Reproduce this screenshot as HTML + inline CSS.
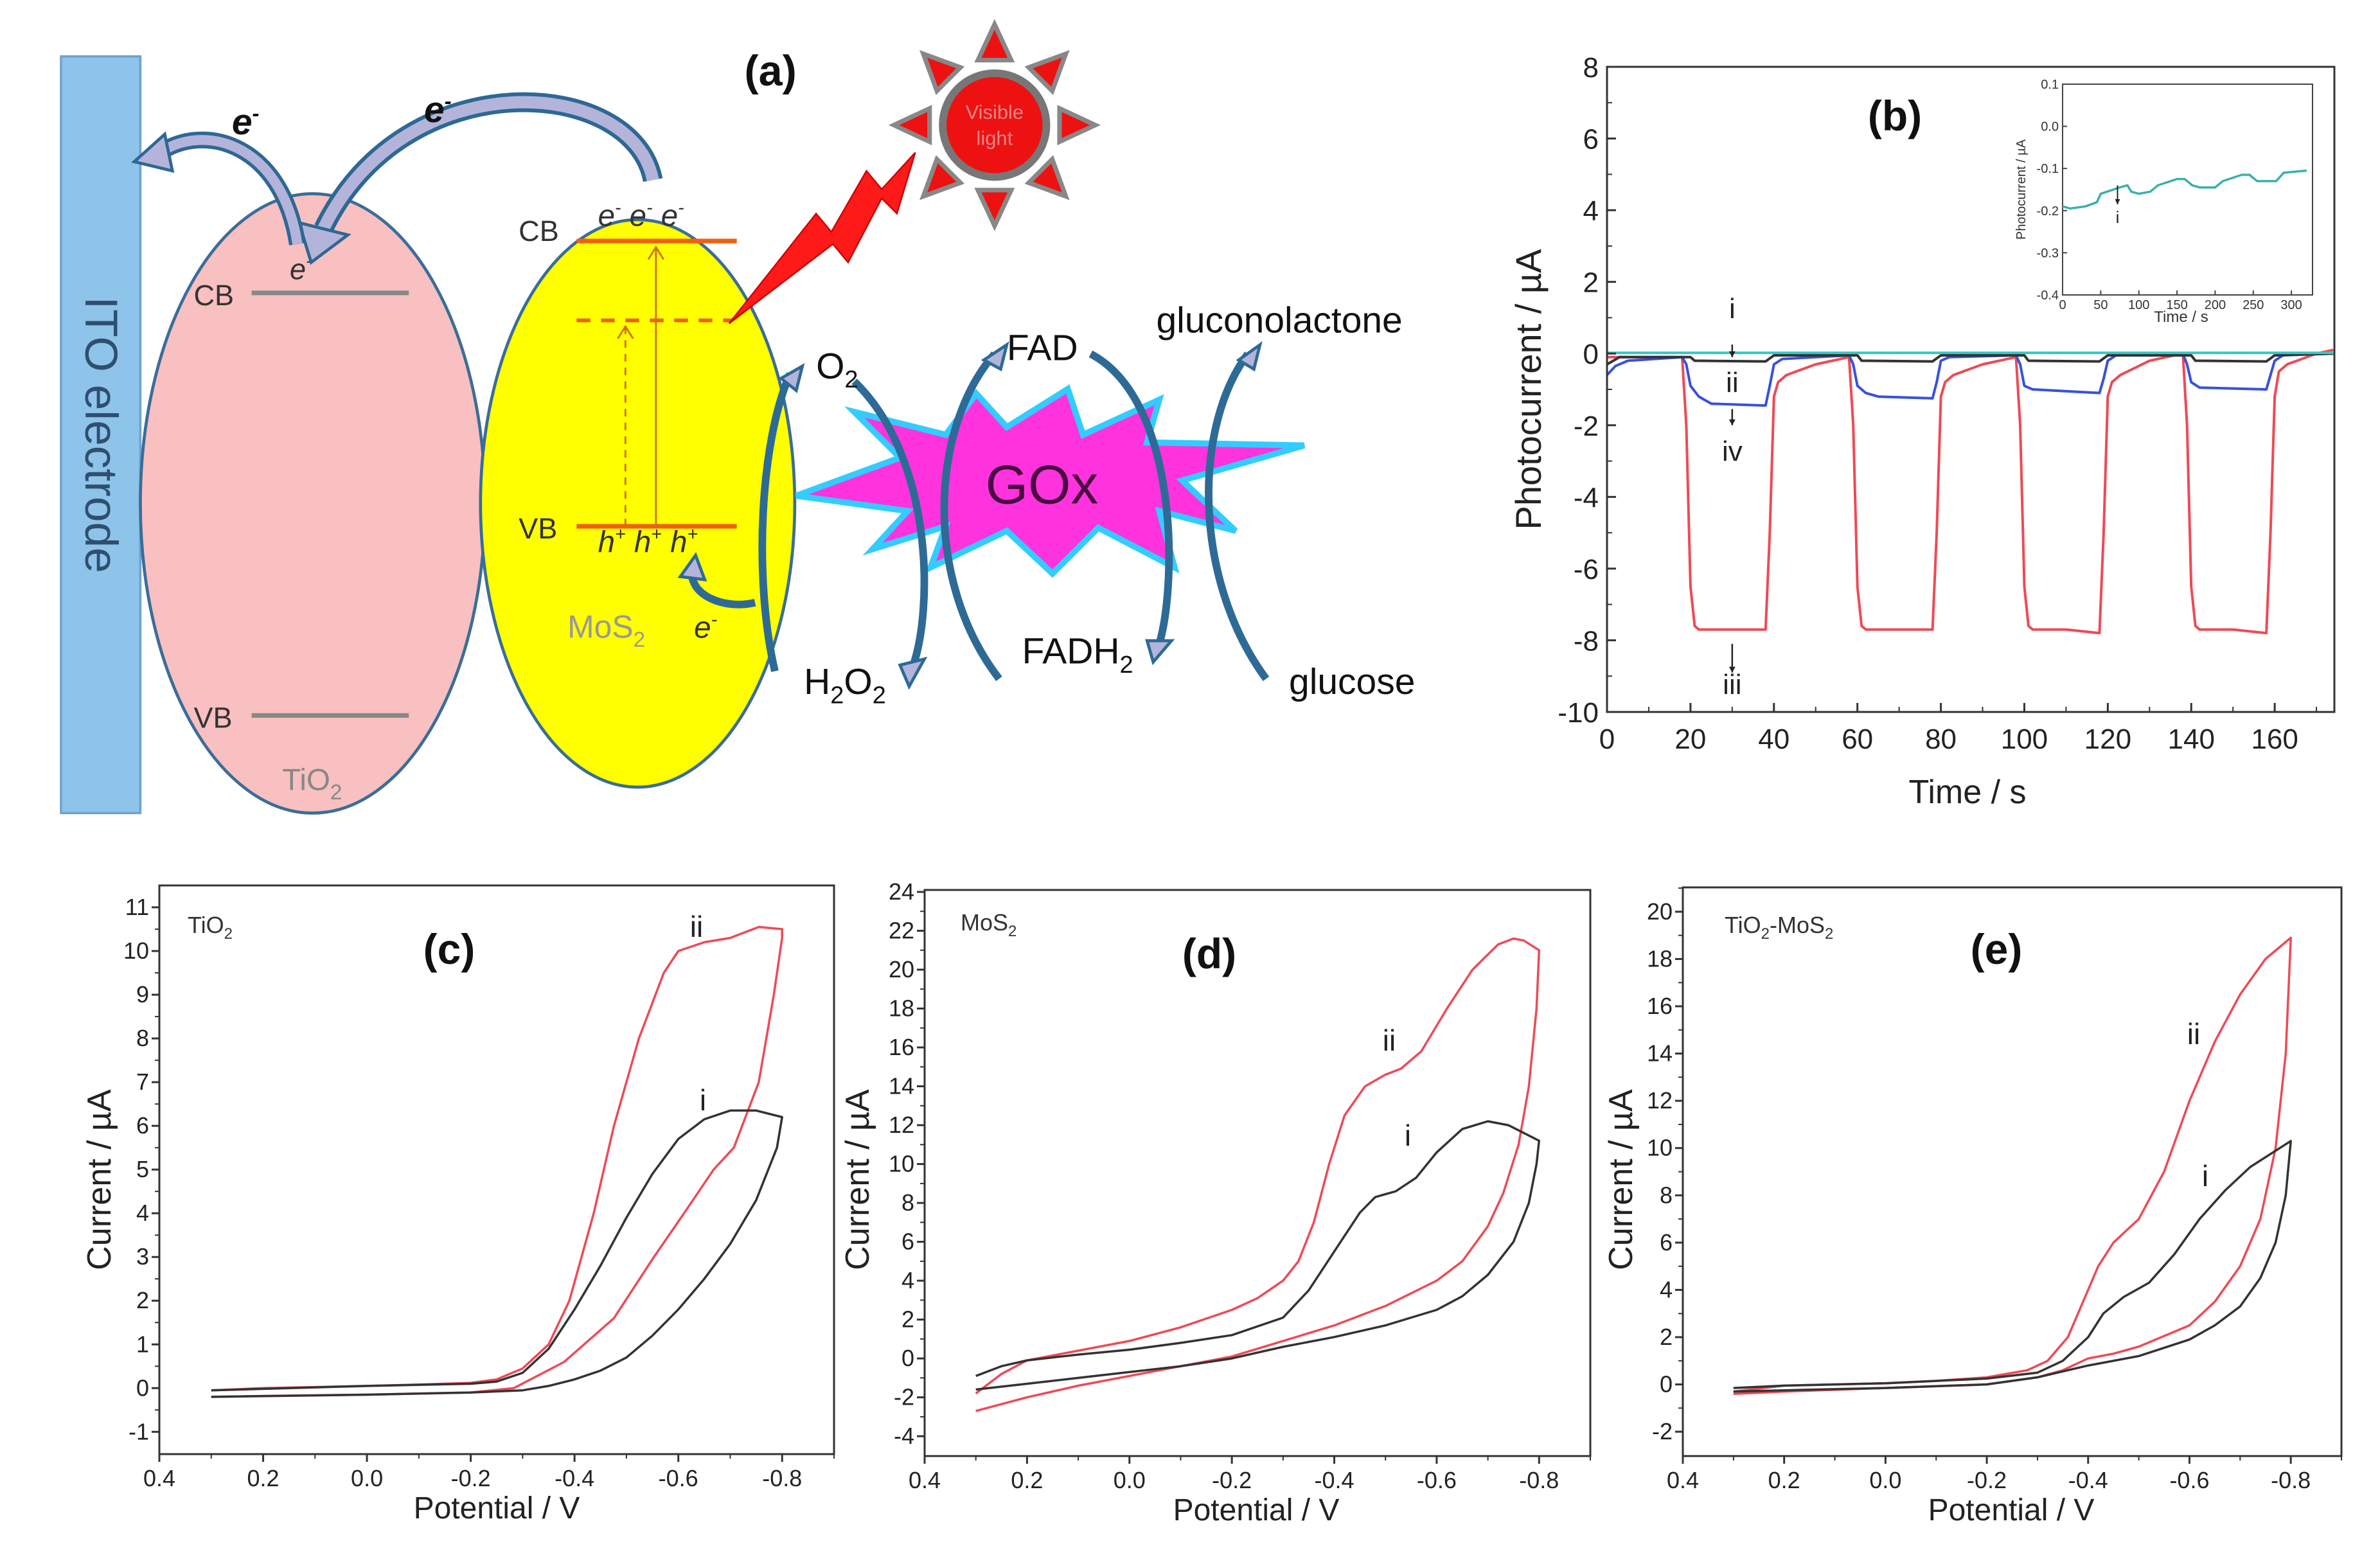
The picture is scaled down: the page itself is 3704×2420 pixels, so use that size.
<!DOCTYPE html>
<html><head><meta charset="utf-8"><style>
html,body{margin:0;padding:0;background:#fff;}
svg{display:block;font-family:"Liberation Sans",sans-serif;}
</style></head><body>
<svg id="fig" xmlns="http://www.w3.org/2000/svg" width="3704" height="2420" viewBox="0 0 3704 2420">
<rect width="3704" height="2420" fill="#fff"/>
<g transform="scale(2.374)" font-family="Liberation Sans, sans-serif">
  <rect x="40" y="37" width="52" height="496" fill="#8ec3ea" stroke="#6fa3cf" stroke-width="1.5"/>
  <text transform="translate(56,285) rotate(90)" text-anchor="middle" font-size="30" fill="#2f4f6f">ITO  electrode</text>
  <ellipse cx="205" cy="330" rx="113" ry="203" fill="#f8c0c0" stroke="#3b6d98" stroke-width="2"/>
  <ellipse cx="418" cy="330" rx="103" ry="186" fill="#ffff00" stroke="#3b6d98" stroke-width="2"/>
  <line x1="165" y1="192" x2="268" y2="192" stroke="#888" stroke-width="3"/>
  <line x1="165" y1="469" x2="268" y2="469" stroke="#888" stroke-width="3"/>
  <text x="127" y="200" font-size="19" fill="#333">CB</text>
  <text x="127" y="477" font-size="19" fill="#333">VB</text>
  <text x="190" y="183" font-size="19" font-style="italic" fill="#333">e<tspan dy="-8" font-size="12">-</tspan></text>
  <text x="185" y="518" font-size="20" fill="#888">TiO<tspan dy="6" font-size="14">2</tspan></text>
  <line x1="378" y1="158" x2="483" y2="158" stroke="#f06010" stroke-width="3"/>
  <line x1="378" y1="210" x2="480" y2="210" stroke="#f06010" stroke-width="2.5" stroke-dasharray="9,7"/>
  <line x1="378" y1="345" x2="483" y2="345" stroke="#f06010" stroke-width="3"/>
  <line x1="430" y1="345" x2="430" y2="162" stroke="#d07020" stroke-width="1.2"/>
  <polyline points="425,170 430,162 435,170" fill="none" stroke="#d07020" stroke-width="1.2"/>
  <line x1="410" y1="345" x2="410" y2="214" stroke="#d07020" stroke-width="1.2" stroke-dasharray="5,4"/>
  <polyline points="405,222 410,214 415,222" fill="none" stroke="#d07020" stroke-width="1.2"/>
  <text x="340" y="158" font-size="19" fill="#333">CB</text>
  <text x="340" y="353" font-size="19" fill="#333">VB</text>
  <text x="392" y="148" font-size="20" font-style="italic" fill="#333">e<tspan dy="-8" font-size="12">-</tspan><tspan dy="8"> e</tspan><tspan dy="-8" font-size="12">-</tspan><tspan dy="8"> e</tspan><tspan dy="-8" font-size="12">-</tspan></text>
  <text x="392" y="362" font-size="20" font-style="italic" fill="#333">h<tspan dy="-8" font-size="12">+</tspan><tspan dy="8"> h</tspan><tspan dy="-8" font-size="12">+</tspan><tspan dy="8"> h</tspan><tspan dy="-8" font-size="12">+</tspan></text>
  <text x="372" y="418" font-size="21" fill="#999">MoS<tspan dy="6" font-size="14">2</tspan></text>
  <text x="455" y="418" font-size="20" font-style="italic" fill="#333">e<tspan dy="-8" font-size="12">-</tspan></text>
  <path d="M428,118 C415,50 265,40 212,150" fill="none" stroke="#2e6894" stroke-width="13"/>
  <path d="M428,118 C415,50 265,40 212,150" fill="none" stroke="#b4b4da" stroke-width="8"/>
  <polygon points="196,146 228,154 204,172" fill="#b4b4da" stroke="#2e6894" stroke-width="2"/>
  <path d="M195,160 C185,95 135,80 105,100" fill="none" stroke="#2e6894" stroke-width="11"/>
  <path d="M195,160 C185,95 135,80 105,100" fill="none" stroke="#b4b4da" stroke-width="6.5"/>
  <polygon points="108,88 88,106 113,112" fill="#b4b4da" stroke="#2e6894" stroke-width="2"/>
  <text x="152" y="88" font-size="24" font-weight="bold" font-style="italic" fill="#111">e<tspan dy="-9" font-size="14">-</tspan></text>
  <text x="278" y="80" font-size="24" font-weight="bold" font-style="italic" fill="#111">e<tspan dy="-9" font-size="14">-</tspan></text>
  <text x="488" y="56" font-size="28" font-weight="bold" fill="#111">(a)</text>
  <polygon points="478,212 535,140 545,152 568,112 578,124 600,100 588,140 578,130 556,172 546,160" fill="#ff1a1a" stroke="#cc0000" stroke-width="1"/>
  <g id="sun"></g>
  <polygon points="522,325 590,300 560,270 620,285 640,258 660,280 700,255 710,285 760,262 752,290 855,292 775,315 810,348 760,335 770,372 720,346 690,376 660,348 610,372 620,345 572,360 595,335" fill="#ff33dd" stroke="#33ccff" stroke-width="4"/>
  <text x="683" y="330" font-size="36" text-anchor="middle" fill="#4a0a40">GOx</text>
  <g fill="none" stroke="#2e6a96" stroke-width="5">
    <path d="M560,250 C612,300 612,400 598,438"/>
    <path d="M508,440 C494,380 498,290 518,245"/>
    <path d="M655,445 C605,380 610,280 652,232"/>
    <path d="M715,232 C772,262 772,380 760,422"/>
    <path d="M830,445 C782,380 782,280 818,232"/>
    <path d="M495,395 C475,400 450,390 454,372"/>
  </g>
  <g fill="#b4b4da" stroke="#2e6a96" stroke-width="2">
    <polygon points="590,436 606,432 596,450"/>
    <polygon points="512,248 526,240 522,256"/>
    <polygon points="645,236 660,226 656,242"/>
    <polygon points="752,420 768,420 756,434"/>
    <polygon points="812,236 826,226 822,242"/>
    <polygon points="446,378 456,364 462,380"/>
  </g>
  <text x="535" y="248" font-size="24" fill="#111">O<tspan dy="6" font-size="16">2</tspan></text>
  <text x="660" y="236" font-size="24" fill="#111">FAD</text>
  <text x="758" y="218" font-size="24" fill="#111">gluconolactone</text>
  <text x="527" y="455" font-size="24" fill="#111">H<tspan dy="6" font-size="16">2</tspan><tspan dy="-6">O</tspan><tspan dy="6" font-size="16">2</tspan></text>
  <text x="670" y="435" font-size="24" fill="#111">FADH<tspan dy="6" font-size="16">2</tspan></text>
  <text x="845" y="455" font-size="24" fill="#111">glucose</text>
</g>
<g id="charts"></g>
</svg>
<script>
const bTimeRed = [0,18,19,20,21,22,30,38,39,40,41,43,50,58,59,60,61,62,70,78,79,80,81,83,90,98,99,100,101,102,110,118,119,120,121,123,130,138,139,140,141,142,150,158,159,160,161,163,170,174];
const bValRed  = [-0.1,-0.1,-2,-6.5,-7.6,-7.7,-7.7,-7.7,-5,-1.2,-0.8,-0.6,-0.3,-0.1,-2,-6.5,-7.6,-7.7,-7.7,-7.7,-5,-1.2,-0.8,-0.6,-0.3,-0.1,-2,-6.5,-7.6,-7.7,-7.7,-7.8,-5,-1.2,-0.8,-0.6,-0.2,0,-2,-6.5,-7.6,-7.7,-7.7,-7.8,-5,-1.2,-0.5,-0.3,0,0.1];
const bTimeBlue = [0,2,5,18,19,20,22,25,38,39,40,42,58,59,60,62,65,78,79,80,82,98,99,100,102,118,119,120,122,138,139,140,142,158,159,160,162,174];
const bValBlue  = [-0.6,-0.35,-0.2,-0.1,-0.3,-0.9,-1.2,-1.4,-1.45,-0.9,-0.3,-0.15,-0.05,-0.3,-0.9,-1.1,-1.2,-1.25,-0.8,-0.2,-0.1,-0.05,-0.3,-0.9,-1.0,-1.1,-0.7,-0.2,-0.05,0,-0.3,-0.8,-0.95,-1.0,-0.6,-0.2,-0.05,0];
const bTimeBlack = [0,3,20,21,38,40,60,61,78,80,100,101,118,120,140,141,158,160,174];
const bValBlack  = [-0.3,-0.1,-0.1,-0.2,-0.22,-0.05,-0.05,-0.2,-0.22,-0.05,-0.05,-0.2,-0.22,-0.05,-0.05,-0.2,-0.22,-0.05,0];
const bTimeCyan = [0,174];
const bValCyan  = [0.02,0.02];
const bXTicks = [0,20,40,60,80,100,120,140,160];
const bYTicks = [-10,-8,-6,-4,-2,0,2,4,6,8];
const insetTime = [0,10,30,45,50,75,85,90,100,115,125,150,160,170,180,200,210,235,245,255,280,290,320];
const insetVal  = [-0.19,-0.195,-0.19,-0.18,-0.16,-0.145,-0.14,-0.155,-0.16,-0.155,-0.14,-0.125,-0.125,-0.14,-0.145,-0.145,-0.13,-0.115,-0.115,-0.13,-0.13,-0.11,-0.105];
const insetXTicks = [0,50,100,150,200,250,300];
const insetYTicks = [0.1,0.0,-0.1,-0.2,-0.3,-0.4];

const cRed = [[0.3,-0.05],[0.2,0.0],[0.0,0.05],[-0.1,0.08],[-0.2,0.12],[-0.25,0.2],[-0.3,0.45],[-0.35,1.0],[-0.39,2.0],[-0.437,4.0],[-0.476,6.0],[-0.524,8.0],[-0.572,9.5],[-0.6,10.0],[-0.65,10.2],[-0.7,10.3],[-0.755,10.55],[-0.8,10.5],[-0.8,10.3],[-0.784,9.0],[-0.755,7.0],[-0.707,5.5],[-0.668,5.0],[-0.611,4.0],[-0.553,3.0],[-0.476,1.6],[-0.38,0.6],[-0.283,0.0],[-0.2,-0.1],[0.0,-0.15],[0.2,-0.18],[0.3,-0.2]];
const cBlack = [[0.3,-0.05],[0.0,0.05],[-0.2,0.1],[-0.25,0.15],[-0.3,0.35],[-0.35,0.9],[-0.4,1.8],[-0.45,2.8],[-0.5,3.9],[-0.55,4.9],[-0.6,5.7],[-0.65,6.15],[-0.7,6.35],[-0.75,6.35],[-0.8,6.2],[-0.79,5.5],[-0.75,4.3],[-0.7,3.3],[-0.65,2.5],[-0.6,1.8],[-0.55,1.2],[-0.5,0.7],[-0.45,0.4],[-0.4,0.2],[-0.35,0.05],[-0.3,-0.05],[-0.2,-0.1],[0.0,-0.15],[0.3,-0.2]];
const dRed = [[0.3,-1.8],[0.25,-0.8],[0.2,-0.1],[0.1,0.4],[0.0,0.9],[-0.1,1.6],[-0.2,2.5],[-0.25,3.1],[-0.3,4.0],[-0.33,5.0],[-0.36,7.0],[-0.39,10.0],[-0.42,12.5],[-0.46,14.0],[-0.5,14.6],[-0.53,14.9],[-0.57,15.8],[-0.62,18.0],[-0.67,20.0],[-0.72,21.3],[-0.75,21.6],[-0.77,21.5],[-0.8,21.0],[-0.795,18.0],[-0.78,14.0],[-0.76,11.0],[-0.73,8.5],[-0.7,6.8],[-0.65,5.0],[-0.6,4.0],[-0.5,2.7],[-0.4,1.7],[-0.3,0.9],[-0.2,0.1],[-0.1,-0.4],[0.0,-0.9],[0.1,-1.4],[0.2,-2.0],[0.3,-2.7]];
const dBlack = [[0.3,-0.9],[0.25,-0.4],[0.2,-0.1],[0.1,0.2],[0.0,0.45],[-0.1,0.8],[-0.2,1.2],[-0.3,2.1],[-0.35,3.5],[-0.4,5.5],[-0.45,7.5],[-0.48,8.3],[-0.52,8.6],[-0.56,9.3],[-0.6,10.6],[-0.65,11.8],[-0.7,12.2],[-0.74,12.0],[-0.8,11.2],[-0.795,10.0],[-0.78,8.0],[-0.75,6.0],[-0.7,4.3],[-0.65,3.2],[-0.6,2.5],[-0.5,1.7],[-0.4,1.1],[-0.3,0.6],[-0.2,0.0],[-0.1,-0.4],[0.0,-0.7],[0.1,-1.0],[0.2,-1.3],[0.3,-1.6]];
const eRed = [[0.3,-0.3],[0.2,-0.05],[0.0,0.05],[-0.1,0.15],[-0.2,0.3],[-0.28,0.6],[-0.32,1.0],[-0.36,2.0],[-0.39,3.5],[-0.42,5.0],[-0.45,6.0],[-0.5,7.0],[-0.55,9.0],[-0.6,12.0],[-0.65,14.5],[-0.7,16.5],[-0.75,18.0],[-0.8,18.9],[-0.79,14.0],[-0.77,10.0],[-0.74,7.0],[-0.7,5.0],[-0.65,3.5],[-0.6,2.5],[-0.5,1.6],[-0.45,1.3],[-0.4,1.1],[-0.35,0.6],[-0.3,0.3],[-0.2,0.0],[0.0,-0.15],[0.2,-0.3],[0.3,-0.4]];
const eBlack = [[0.3,-0.15],[0.2,-0.05],[0.0,0.05],[-0.2,0.25],[-0.3,0.5],[-0.35,1.0],[-0.4,2.0],[-0.43,3.0],[-0.47,3.7],[-0.52,4.3],[-0.57,5.5],[-0.62,7.0],[-0.67,8.2],[-0.72,9.2],[-0.8,10.3],[-0.79,8.0],[-0.77,6.0],[-0.74,4.5],[-0.7,3.3],[-0.65,2.5],[-0.6,1.9],[-0.5,1.2],[-0.4,0.8],[-0.3,0.3],[-0.2,0.0],[0.0,-0.15],[0.2,-0.25],[0.3,-0.3]];
const cvXTicks = [0.4,0.2,0.0,-0.2,-0.4,-0.6,-0.8];
const cYTicks = [-1,0,1,2,3,4,5,6,7,8,9,10,11];
const dYTicks = [-4,-2,0,2,4,6,8,10,12,14,16,18,20,22,24];
const eYTicks = [-2,0,2,4,6,8,10,12,14,16,18,20];

const NS = "http://www.w3.org/2000/svg";
const root = document.getElementById("charts");
function mk(parent, tag, attrs, txt){
  const el = document.createElementNS(NS, tag);
  for (const k in attrs) el.setAttribute(k, attrs[k]);
  if (txt !== undefined) el.textContent = txt;
  parent.appendChild(el);
  return el;
}
function scale(d0,d1,r0,r1){ return v => r0 + (v-d0)/(d1-d0)*(r1-r0); }

(function(){
  const sun = document.getElementById("sun");
  for (let i=0;i<8;i++){
    const a = i*Math.PI/4 - Math.PI/2, cx=652, cy=82;
    const p = [[Math.cos(a)*66, Math.sin(a)*66],[Math.cos(a+0.25)*44, Math.sin(a+0.25)*44],[Math.cos(a-0.25)*44, Math.sin(a-0.25)*44]]
      .map(q=>(cx+q[0]).toFixed(1)+","+(cy+q[1]).toFixed(1)).join(" ");
    const t = mk(sun,"polygon",{points:p,fill:"#ee1111",stroke:"#888","stroke-width":3});
    
    
  }
  const c = mk(sun,"circle",{cx:652,cy:82,r:34,fill:"#ee1111",stroke:"#777","stroke-width":5});
  
  
  mk(sun,"text",{x:652,y:78,"text-anchor":"middle","font-size":13,fill:"#d88"},"Visible");
  mk(sun,"text",{x:652,y:95,"text-anchor":"middle","font-size":13,fill:"#d88"},"light");
})();

function pathFrom(xs, ys, sx, sy){
  return xs.map((x,i)=>(i?"L":"M")+sx(x).toFixed(1)+","+sy(ys[i]).toFixed(1)).join(" ");
}

(function(){
  const L=2501,R=3633,T=104,B=1108;
  const sx = scale(0,174.3,L,R), sy = scale(8,-10,T,B);
  const g = mk(root,"g",{});
  
  
  const series = [[bTimeCyan,bValCyan,"#35c8c8","curve-i"],[bTimeBlack,bValBlack,"#333333","curve-ii"],[bTimeBlue,bValBlue,"#3850e0","curve-iv"],[bTimeRed,bValRed,"#ee4a55","curve-iii"]];
  [series[3],series[2],series[1],series[0]].forEach(s=>{
    const p = mk(g,"path",{d:pathFrom(s[0],s[1],sx,sy),fill:"none",stroke:s[2],"stroke-width":4,"stroke-linejoin":"round"});
    
    
  });
  const frame = mk(g,"rect",{x:L,y:T,width:R-L,height:B-T,fill:"none",stroke:"#333","stroke-width":3});
  
  
  bYTicks.forEach(v=>{
    mk(g,"line",{x1:L,x2:L+14,y1:sy(v),y2:sy(v),stroke:"#333","stroke-width":3});
    if (v<8) mk(g,"line",{x1:L,x2:L+8,y1:sy(v+1),y2:sy(v+1),stroke:"#333","stroke-width":2});
    const t = mk(g,"text",{x:L-13,y:sy(v)+16,"text-anchor":"end","font-size":44,fill:"#222"},String(v));
    
    
  });
  bXTicks.forEach(v=>{
    mk(g,"line",{x1:sx(v),x2:sx(v),y1:B,y2:B-14,stroke:"#333","stroke-width":3});
    mk(g,"line",{x1:sx(v+10),x2:sx(v+10),y1:B,y2:B-8,stroke:"#333","stroke-width":2});
    const t = mk(g,"text",{x:sx(v),y:1165,"text-anchor":"middle","font-size":44,fill:"#222"},String(v));
    
    
  });
  const xt = mk(g,"text",{x:3062,y:1250,"text-anchor":"middle","font-size":52,fill:"#222"},"Time / s");
  
  
  const yt = mk(g,"text",{transform:"translate(2398,606) rotate(-90)","text-anchor":"middle","font-size":56,fill:"#222"},"Photocurrent / \u00b5A");
  
  
  const pl = mk(g,"text",{x:2949,y:203,"text-anchor":"middle","font-size":66,"font-weight":"bold",fill:"#111"},"(b)");
  
  
  const lx = sx(30);
  [["i",479],["ii",594],["iv",701],["iii",1064]].forEach(a=>{
    const t = mk(g,"text",{x:lx,y:a[1]+16,"text-anchor":"middle","font-size":44,fill:"#222"},a[0]);
    
    
  });
  [[sy(0.25),sy(-0.1)],[sy(-1.55),sy(-2.0)],[sy(-8.1),sy(-8.9)]].forEach(a=>{
    mk(g,"line",{x1:lx,x2:lx,y1:a[0],y2:a[1],stroke:"#222","stroke-width":2.5});
    mk(g,"polygon",{points:`${lx-5},${a[1]-9} ${lx+5},${a[1]-9} ${lx},${a[1]}`,fill:"#222"});
  });
  const iL=3210,iR=3599,iT=131,iB=459;
  const ix = scale(0,327.7,iL,iR), iy = scale(0.1,-0.4,iT,iB);
  const ig = mk(g,"g",{});
  
  
  mk(ig,"rect",{x:iL,y:iT,width:iR-iL,height:iB-iT,fill:"#fff",stroke:"#444","stroke-width":2});
  const ip = mk(ig,"path",{d:pathFrom(insetTime,insetVal,ix,iy),fill:"none",stroke:"#3ab0a8","stroke-width":3.5});
  
  
  insetYTicks.forEach(v=>{
    mk(ig,"line",{x1:iL,x2:iL+7,y1:iy(v),y2:iy(v),stroke:"#444","stroke-width":2});
    mk(ig,"text",{x:iL-6,y:iy(v)+7,"text-anchor":"end","font-size":20,fill:"#333"},v.toFixed(1));
  });
  insetXTicks.forEach(v=>{
    mk(ig,"line",{x1:ix(v),x2:ix(v),y1:iB,y2:iB-7,stroke:"#444","stroke-width":2});
    mk(ig,"text",{x:ix(v),y:iB+22,"text-anchor":"middle","font-size":20,fill:"#333"},String(v));
  });
  mk(ig,"text",{x:(iL+iR)/2-10,y:iB+42,"text-anchor":"middle","font-size":24,fill:"#333"},"Time / s");
  mk(ig,"text",{transform:`translate(3152,${(iT+iB)/2}) rotate(-90)`,"text-anchor":"middle","font-size":20,fill:"#333"},"Photocurrent / \u00b5A");
  const ax = ix(72);
  mk(ig,"line",{x1:ax,x2:ax,y1:iy(-0.14),y2:iy(-0.185),stroke:"#222","stroke-width":2});
  mk(ig,"polygon",{points:`${ax-4},${iy(-0.185)-8} ${ax+4},${iy(-0.185)-8} ${ax},${iy(-0.185)}`,fill:"#222"});
  mk(ig,"text",{x:ax,y:iy(-0.205)+16,"text-anchor":"middle","font-size":26,fill:"#222"},"i");
})();

function cvPanel(cfg){
  const {L,R,T,B,ymin,ymax,yticks,red,black,name,tag,sub,label,lx,ly,ii,i,xtx,ytx} = cfg;
  const sx = scale(0.4,-0.9,L,R), sy = scale(ymax,ymin,T,B);
  const g = mk(root,"g",{});
  
  
  const pr = mk(g,"path",{d:pathFrom(red.map(p=>p[0]),red.map(p=>p[1]),sx,sy),fill:"none",stroke:"#ee4a55","stroke-width":3.5,"stroke-linejoin":"round"});
  
  
  const pb = mk(g,"path",{d:pathFrom(black.map(p=>p[0]),black.map(p=>p[1]),sx,sy),fill:"none",stroke:"#333","stroke-width":3.5,"stroke-linejoin":"round"});
  
  
  const fr = mk(g,"rect",{x:L,y:T,width:R-L,height:B-T,fill:"none",stroke:"#333","stroke-width":3});
  
  
  const step = yticks[1]-yticks[0];
  yticks.forEach(v=>{
    mk(g,"line",{x1:L,x2:L-12,y1:sy(v),y2:sy(v),stroke:"#333","stroke-width":3});
    if (v+step/2 < ymax) mk(g,"line",{x1:L,x2:L-7,y1:sy(v+step/2),y2:sy(v+step/2),stroke:"#333","stroke-width":2});
    const t = mk(g,"text",{x:L-16,y:sy(v)+12,"text-anchor":"end","font-size":36,fill:"#222"},String(v));
    
    
  });
  cvXTicks.forEach(v=>{
    mk(g,"line",{x1:sx(v),x2:sx(v),y1:B,y2:B+12,stroke:"#333","stroke-width":3});
    mk(g,"line",{x1:sx(v-0.1),x2:sx(v-0.1),y1:B,y2:B+7,stroke:"#333","stroke-width":2});
    const t = mk(g,"text",{x:sx(v),y:B+50,"text-anchor":"middle","font-size":36,fill:"#222"},v.toFixed(1));
    
    
  });
  const xt = mk(g,"text",{x:xtx,y:B+100,"text-anchor":"middle","font-size":48,fill:"#222"},"Potential / V");
  
  
  const yt = mk(g,"text",{transform:`translate(${ytx},1836) rotate(-90)`,"text-anchor":"middle","font-size":52,fill:"#222"},"Current / \u00b5A");
  
  
  const mt = mk(g,"text",{x:tag[0],y:tag[1],"font-size":36,fill:"#333"});
  
  
  sub.forEach(s=>{ mk(mt,"tspan",{dy:s[1],"font-size":s[2]},s[0]); });
  const pl = mk(g,"text",{x:lx,y:ly,"text-anchor":"middle","font-size":66,"font-weight":"bold",fill:"#111"},label);
  
  
  const t2 = mk(g,"text",{x:ii[0],y:ii[1],"text-anchor":"middle","font-size":46,fill:"#222"},"ii");
  
  
  const t1 = mk(g,"text",{x:i[0],y:i[1],"text-anchor":"middle","font-size":46,fill:"#222"},"i");
  
  
}
cvPanel({L:248,R:1298,T:1378,B:2263,ymin:-1.51,ymax:11.5,yticks:cYTicks,red:cRed,black:cBlack,name:"panel-c-cv-tio2",
  tag:[292,1452],sub:[["TiO",0,36],["2",9,24]],label:"(c)",lx:699,ly:1500,ii:[1084,1458],i:[1094,1728],xtx:773,ytx:172});
cvPanel({L:1439,R:2475,T:1385,B:2266,ymin:-5.02,ymax:24.1,yticks:dYTicks,red:dRed,black:dBlack,name:"panel-d-cv-mos2",
  tag:[1495,1448],sub:[["MoS",0,36],["2",9,24]],label:"(d)",lx:1882,ly:1507,ii:[2162,1635],i:[2191,1783],xtx:1955,ytx:1352});
cvPanel({L:2619,R:3644,T:1381,B:2266,ymin:-3.03,ymax:21.03,yticks:eYTicks,red:eRed,black:eBlack,name:"panel-e-cv-tio2-mos2",
  tag:[2684,1452],sub:[["TiO",0,36],["2",9,24],["-MoS",-9,36],["2",9,24]],label:"(e)",lx:3107,ly:1500,ii:[3414,1625],i:[3432,1846],xtx:3130,ytx:2540});
</script>
</body></html>
